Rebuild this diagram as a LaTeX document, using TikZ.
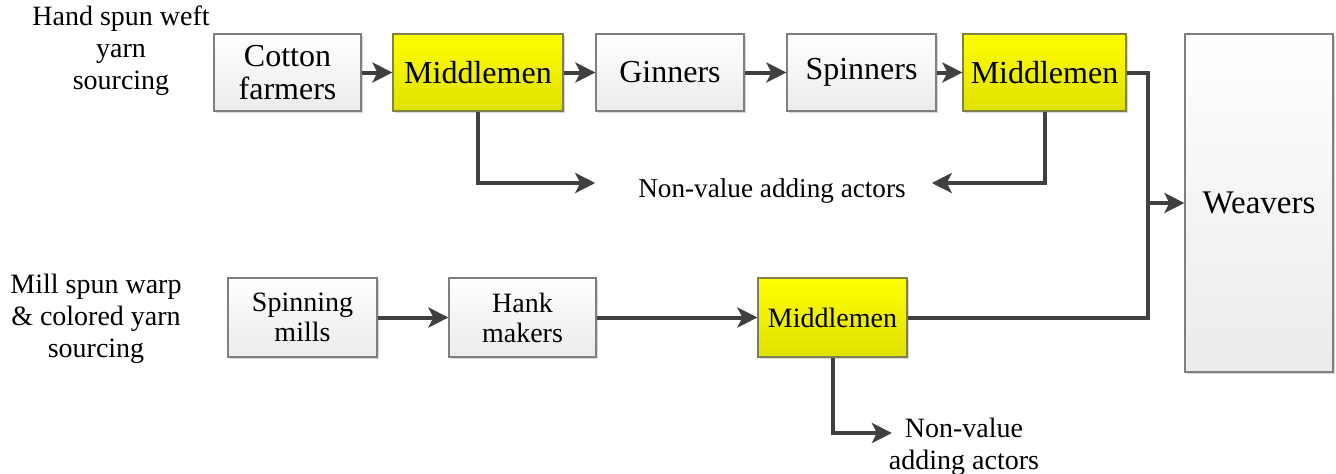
\documentclass[tikz,border=0pt]{standalone}
\usepackage{fontspec}
\setmainfont{Liberation Serif}
\usepackage{tikz}
\usetikzlibrary{arrows.meta, shadows}
\definecolor{boxedge}{HTML}{7F7F7F}
\definecolor{boxbottom}{HTML}{EBEBEB}
\definecolor{yellowtop}{HTML}{FFFF00}
\definecolor{yellowbottom}{HTML}{E0E000}
\definecolor{yellowedge}{HTML}{80804A}
\definecolor{wiregray}{HTML}{404040}
\tikzstyle{actor} = [rectangle, minimum width=74pt, minimum height=38.5pt, inner xsep=3pt, text centered, align=center, draw=boxedge, line width=0.6pt, top color=white, bottom color=boxbottom, drop shadow={shadow xshift=1.2pt, shadow yshift=-1.2pt, fill=black!30}, font=\fontsize{16}{16.5}\selectfont]
\tikzstyle{actorsmall} = [actor, minimum height=39.5pt, font=\fontsize{14}{15}\selectfont]
\tikzstyle{middle} = [actor, draw=yellowedge, top color=yellowtop, bottom color=yellowbottom]
\tikzstyle{middlesmall} = [actorsmall, draw=yellowedge, top color=yellowtop, bottom color=yellowbottom]
\tikzstyle{note} = [align=center, font=\fontsize{14}{16}\selectfont]
\tikzstyle{arrow} = [line width=2pt, draw=wiregray, -{Stealth[length=10pt, width=10pt, inset=2.5pt]}]
\tikzstyle{wire} = [line width=2pt, draw=wiregray]

\begin{document}
\begin{tikzpicture}[x=0.5pt, y=-0.5pt]
	\useasboundingbox (0,0) rectangle (1336,473);
	% hand spun weft yarn
	\node(weft_label) [note] at (121,51) {Hand spun weft\\yarn\\sourcing};
	\node(cotton_farmers) [actor, minimum width=73.5pt] at (287.5,72.5) {Cotton\\farmers};
	\node(middlemen_weft) [middle, minimum width=85pt] at (478,72.5) {Middlemen};
	\node(ginners) [actor] at (670,72.5) {Ginners};
	\node(spinners) [actor, minimum width=74.5pt] at (861.5,72.5) {Spinners};
	\node(middlemen_spun) [middle, minimum width=81.5pt] at (1044.5,72.5) {Middlemen};
	\node(non_value_top) [note, font=\fontsize{13.6}{15}\selectfont] at (772,191) {Non-value adding actors};
	
	% mill spun warp and colored yarn
	\node(warp_label) [note] at (96,319) {Mill spun warp\\\& colored yarn\\sourcing};
	\node(spinning_mills) [actorsmall, minimum width=74.5pt] at (302.5,317.5) {Spinning\\mills};
	\node(hank_makers) [actorsmall, minimum width=73.5pt] at (522.5,317.5) {Hank\\makers};
	\node(middlemen_warp) [middlesmall, minimum width=74.5pt] at (832.5,317.5) {Middlemen};
	\node(non_value_bottom) [note] at (964,447) {Non-value\\adding actors};
	
	\node(weavers) [actor, minimum width=74pt, minimum height=169pt, font=\fontsize{16.5}{17}\selectfont] at (1259,203) {Weavers};
	\coordinate(joint) at ([xshift=-18pt]weavers.west);
	
	\draw[arrow] (cotton_farmers) -- (middlemen_weft);
	\draw[arrow] (middlemen_weft) -- (ginners);
	\draw[arrow] (ginners) -- (spinners);
	\draw[arrow] (spinners) -- (middlemen_spun);
	\draw[arrow] (middlemen_weft.south) |- ([shift={(-18pt,4pt)}]non_value_top.west);
	\draw[arrow] (middlemen_spun.south) |- ([shift={(9.5pt,4pt)}]non_value_top.east);
	\draw[arrow] (spinning_mills) -- (hank_makers);
	\draw[arrow] (hank_makers) -- (middlemen_warp);
	\draw[arrow] (middlemen_warp.south) |- ([shift={(5pt,7pt)}]non_value_bottom.west);
	\draw[wire] (middlemen_spun.east) -| (joint);
	\draw[wire] (middlemen_warp.east) -| (joint);
	\draw[arrow] (joint) -- (weavers.west);
	\end{tikzpicture}
\end{document}
